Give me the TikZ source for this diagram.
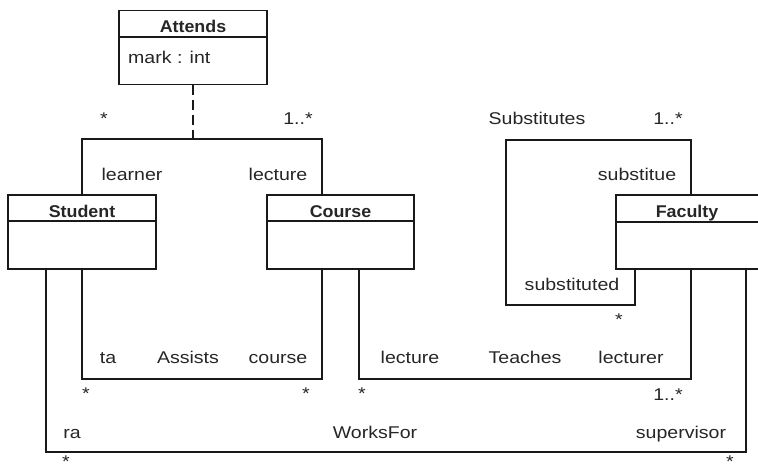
\documentclass[tikz,border=0pt]{standalone}
\usepackage{fontspec}
\setmainfont{Liberation Sans}[FakeStretch=1.15, BoldFeatures={FakeStretch=1.05}]
\begin{document}
\begin{tikzpicture}[x=1pt,y=-1pt,
  every node/.style={font=\fontsize{17}{20}\selectfont, text=black!85, inner sep=0pt},
  cls/.style={draw=black!90, line width=1.8pt, minimum height=74pt, minimum width=#1},
  sep/.style={draw=black!90, line width=1.8pt},
  title/.style={anchor=base, font=\fontsize{17}{20}\selectfont\bfseries},
  lbl/.style={anchor=base},
  conn/.style={draw=black!90, line width=1.5pt},
  dashconn/.style={draw=black!90, line width=1.5pt, dash pattern=on 10pt off 5pt}]
\useasboundingbox (0,0) rectangle (758,464);
\fill[white] (0,0) rectangle (758,464);

% classes
\node[cls=148pt] (attends) at (193,47.5) {};
\draw[sep] ([yshift=-27pt]attends.north west) -- ([yshift=-27pt]attends.north east);
\node[title] (attendsT) at (193,32) {Attends};
\node[lbl, anchor=base west] (mark) at (128,63) {mark : int};

\node[cls=148pt] (student) at (82,232) {};
\draw[sep] ([yshift=-27pt]student.north west) -- ([yshift=-27pt]student.north east);
\node[title] (studentT) at (82,217) {Student};

\node[cls=147pt] (course) at (340.5,232) {};
\draw[sep] ([yshift=-27pt]course.north west) -- ([yshift=-27pt]course.north east);
\node[title] (courseT) at (340.5,217) {Course};

\node[cls=144pt] (faculty) at (688,232) {};
\draw[sep] ([yshift=-28pt]faculty.north west) -- ([yshift=-28pt]faculty.north east);
\node[title] (facultyT) at (687,217) {Faculty};

% Attends association
\coordinate (attc) at (193,139);
\draw[conn] (student.north) |- (attc) -| ([xshift=-18.5pt]course.north);
\draw[dashconn] (attends.south) -- (attc);
\node[lbl] (m1) at (104,124) {*};
\node[lbl] (m2) at (298,124) {1..*};
\node[lbl] (r1) at (132,180) {learner};
\node[lbl] (r2) at (278,180) {lecture};

% Substitutes
\coordinate (subTL) at (506,140);
\coordinate (subBL) at (506,305);
\draw[conn] ([xshift=3pt]faculty.north) |- (subTL) -- (subBL) -| ([xshift=-53pt]faculty.south);
\node[lbl] (subN) at (537,124) {Substitutes};
\node[lbl] (m3) at (668,124) {1..*};
\node[lbl] (r3) at (637,180) {substitue};
\node[lbl] (r4) at (572,290) {substituted};
\node[lbl] (m4) at (619,325) {*};

% Assists
\coordinate (asb) at (200,379);
\draw[conn] (student.south) |- (asb) -| ([xshift=-18.5pt]course.south);
\node[lbl] (r5) at (108,363) {ta};
\node[lbl] (asN) at (188,363) {Assists};
\node[lbl] (r6) at (278,363) {course};
\node[lbl] (m5) at (86,399) {*};
\node[lbl] (m6) at (306,399) {*};

% Teaches
\coordinate (teb) at (500,379);
\draw[conn] ([xshift=18.5pt]course.south) |- (teb) -| ([xshift=3pt]faculty.south);
\node[lbl] (r7) at (410,363) {lecture};
\node[lbl] (teN) at (525,363) {Teaches};
\node[lbl] (r8) at (631,363) {lecturer};
\node[lbl] (m7) at (362,399) {*};
\node[lbl] (m8) at (668,400) {1..*};

% WorksFor
\coordinate (wfb) at (400,452);
\draw[conn] ([xshift=-36pt]student.south) |- (wfb) -| ([xshift=58pt]faculty.south);
\node[lbl] (r9) at (72,438) {ra};
\node[lbl] (wfN) at (375,438) {WorksFor};
\node[lbl] (r10) at (681,438) {supervisor};
\node[lbl, text depth=0pt] (m9) at (66,467) {*};
\node[lbl, text depth=0pt] (m10) at (730,467) {*};
\end{tikzpicture}
\end{document}
